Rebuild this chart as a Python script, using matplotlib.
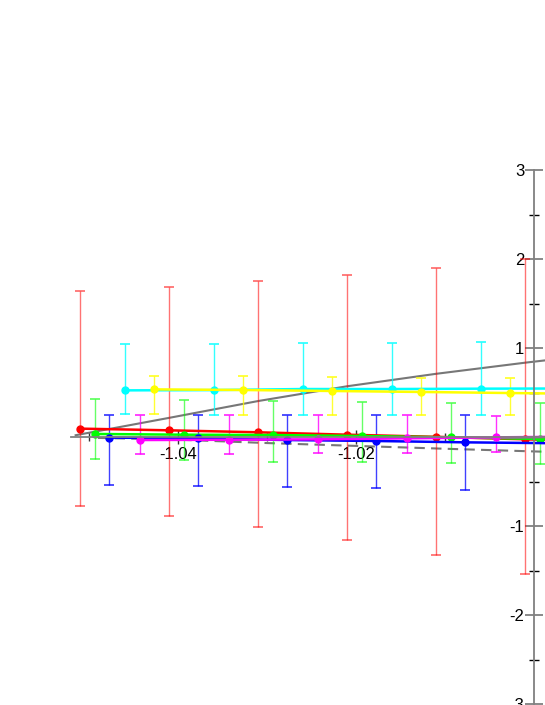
import matplotlib
matplotlib.use('Agg')
import matplotlib.pyplot as plt
import matplotlib.colors as mcolors
import numpy as np

plt.rcParams['font.family'] = ['Liberation Sans', 'DejaVu Sans']

# series data (x, centre, upper bound, lower bound)
red_x = [-1.0510, -1.0410, -1.0310, -1.0210, -1.0110, -1.0010, -0.9910]
red_y = [0.094, 0.075, 0.053, 0.026, 0.002, -0.026, -0.05]
red_hi = [1.64, 1.69, 1.75, 1.82, 1.90, 2.00, 2.10]
red_lo = [-0.78, -0.89, -1.01, -1.16, -1.33, -1.54, -1.75]

green_x = [-1.0493, -1.0393, -1.0293, -1.0193, -1.0093, -0.9993, -0.9893]
green_y = [0.034, 0.026, 0.022, 0.011, -0.004, -0.022, -0.04]
green_hi = [0.43, 0.42, 0.40, 0.39, 0.38, 0.38, 0.37]
green_lo = [-0.25, -0.26, -0.28, -0.28, -0.29, -0.30, -0.31]

blue_x = [-1.0477, -1.0377, -1.0277, -1.0177, -1.0077, -0.9977]
blue_y = [-0.007, -0.015, -0.034, -0.045, -0.06, -0.07]
blue_hi = [0.25, 0.25, 0.245, 0.245, 0.245, 0.24]
blue_lo = [-0.54, -0.55, -0.56, -0.57, -0.60, -0.62]

cyan_x = [-1.0460, -1.0360, -1.0260, -1.0160, -1.0060, -0.9960]
cyan_y = [0.524, 0.527, 0.539, 0.539, 0.543, 0.545]
cyan_hi = [1.05, 1.05, 1.056, 1.06, 1.064, 1.07]
cyan_lo = [0.255, 0.252, 0.247, 0.246, 0.244, 0.24]

magenta_x = [-1.0443, -1.0343, -1.0243, -1.0143, -1.0043, -0.9943]
magenta_y = [-0.034, -0.031, -0.026, -0.015, -0.004, 0.005]
magenta_hi = [0.247, 0.245, 0.243, 0.242, 0.24, 0.24]
magenta_lo = [-0.19, -0.188, -0.184, -0.18, -0.172, -0.165]

yellow_x = [-1.0427, -1.0327, -1.0227, -1.0127, -1.0027, -0.9927]
yellow_y = [0.535, 0.528, 0.517, 0.506, 0.494, 0.483]
yellow_hi = [0.689, 0.685, 0.674, 0.667, 0.66, 0.65]
yellow_lo = [0.255, 0.25, 0.247, 0.245, 0.243, 0.24]

# gray reference curves
fit_x = [-1.0515, -1.041, -1.031, -1.021, -1.011, -1.001, -0.991]
fit_y = [0.02, 0.215, 0.404, 0.57, 0.71, 0.835, 0.95]
trend_x = [-1.049, -1.04, -1.03, -1.02, -1.01, -1.00, -0.99]
trend_y = [-0.01, -0.03, -0.068, -0.10, -0.132, -0.162, -0.19]

xticks_major = [-1.04, -1.02]
xticks_minor = [-1.05, -1.03, -1.01]
yticks_major = [-3, -2, -1, 1, 2, 3]
yticks_minor = [-2.5, -1.5, -0.5, 0.5, 1.5, 2.5]

fig = plt.figure(figsize=(5.45, 7.05), dpi=100)
ax = fig.add_axes([0, 0, 1, 1])
ax.set_xlim(-1.06, -1.06 + 545 / 8900)
ax.set_ylim(437 / 89 - 705 / 89, 437 / 89)

ax.plot(fit_x, fit_y, color='#777777', lw=1.5, zorder=1)
ax.plot(trend_x, trend_y, color='#777777', lw=1.5, dashes=(5, 3), zorder=1)

series = [
    (red_x, red_y, red_hi, red_lo, '#ff0000', 0.55),
    (green_x, green_y, green_hi, green_lo, '#00ff00', 0.6),
    (blue_x, blue_y, blue_hi, blue_lo, '#0000ff', 0.75),
    (cyan_x, cyan_y, cyan_hi, cyan_lo, '#00ffff', 0.8),
    (magenta_x, magenta_y, magenta_hi, magenta_lo, '#ff00ff', 0.8),
    (yellow_x, yellow_y, yellow_hi, yellow_lo, '#ffff00', 0.8),
]
for xs, ys, hi, lo, c, a in series:
    ys = np.array(ys)
    err = [ys - np.array(lo), np.array(hi) - ys]
    ax.errorbar(xs, ys, yerr=err, color=c, ecolor=mcolors.to_rgba(c, a),
                marker='o', ms=5, lw=1.8, elinewidth=1, capsize=3.5,
                capthick=1.3, zorder=2)

# axes crossing in the data area
for s in ['top', 'right']:
    ax.spines[s].set_visible(False)
ax.spines['left'].set_position(('data', -1.0))
ax.spines['left'].set_bounds(-3, 3)
ax.spines['bottom'].set_position(('data', 0))
ax.spines['bottom'].set_bounds(-1.052, -1.06 + 545 / 8900)
for s in ['left', 'bottom']:
    ax.spines[s].set_color('#808080')
    ax.spines[s].set_linewidth(1.3)
    ax.spines[s].set_zorder(3)

ax.set_yticks(yticks_major)
ax.set_yticks(yticks_minor, minor=True)
ax.set_yticklabels([str(v) for v in yticks_major])
ax.set_xticks(xticks_major)
ax.set_xticks(xticks_minor, minor=True)
ax.set_xticklabels(['%.2f' % v for v in xticks_major])

ax.tick_params(axis='y', which='major', direction='inout', length=13,
               width=1.3, color='#808080', pad=0.5, labelsize=12)
ax.tick_params(axis='y', which='minor', direction='inout', length=7,
               width=1, color='black')
ax.tick_params(axis='x', which='major', direction='inout', length=10,
               width=1, color='#333333', pad=2, labelsize=12)
ax.tick_params(axis='x', which='minor', direction='inout', length=6,
               width=1, color='#333333')

fig.savefig('out.png', dpi=100)
